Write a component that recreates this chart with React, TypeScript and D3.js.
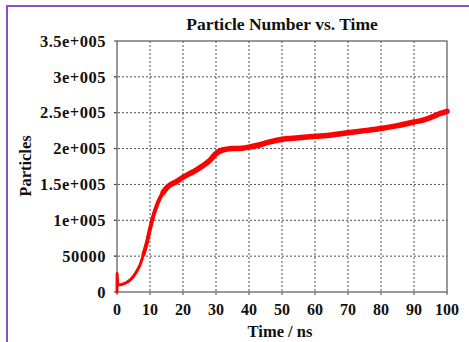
import * as d3 from 'd3';

// time (ns) and particle count
const timeNs = [0, 0.05, 0.15, 0.3, 1, 2, 3, 4, 5, 6, 7, 8, 9, 10, 11, 12, 13, 14, 15, 16, 18, 20, 22, 24, 26, 28, 30, 32, 35, 38, 40, 43, 46, 50, 55, 60, 65, 70, 75, 80, 85, 90, 93, 96, 98, 100];
const particles = [0, 26000, 14000, 10000, 10000, 11500, 13500, 17000, 22000, 29000, 38000, 52000, 68000, 88000, 106000, 120000, 131000, 139000, 145000, 149000, 154000, 160000, 165000, 170000, 176000, 183000, 193000, 198000, 200000, 200500, 202000, 205000, 209000, 213000, 215000, 217000, 219000, 222000, 225000, 228000, 232000, 237000, 240000, 245000, 249000, 252000];

const xTicks = [0, 10, 20, 30, 40, 50, 60, 70, 80, 90, 100];
const yTicks = [0, 50000, 100000, 150000, 200000, 250000, 300000, 350000];
const yTickLabels = ['0', '50000', '1e+005', '1.5e+005', '2e+005', '2.5e+005', '3e+005', '3.5e+005'];

const W = 469;
const H = 342;
const margin = { top: 41, right: 22, bottom: 50, left: 117 };
const font = '"Liberation Serif", "Times New Roman", serif';

export default function App() {
  const innerW = W - margin.left - margin.right;
  const innerH = H - margin.top - margin.bottom;

  const x = d3.scaleLinear().domain([0, 100]).range([0, innerW]);
  const y = d3.scaleLinear().domain([0, 350000]).range([innerH, 0]);

  const line = d3.line<number>()
    .x(i => x(timeNs[i]))
    .y(i => y(particles[i]))
    .curve(d3.curveMonotoneX);

  const idx = d3.range(timeNs.length);
  // the noisy trace gets wider as the count grows
  const mid = idx.filter(i => timeNs[i] >= 8);
  const late = idx.filter(i => timeNs[i] >= 14);

  return (
    <svg width={W} height={H} style={{ position: 'absolute', left: 0, top: 0, background: '#fff' }}>
      {/* purple frame, only left and top edges show */}
      <rect x={7} y={6} width={W + 10} height={H + 10} fill="none" stroke="#8a4fc6" strokeWidth={2} />

      <text x={282} y={30} textAnchor="middle" fontFamily={font} fontWeight="bold" fontSize={17.5} fill="#111">
        Particle Number vs. Time
      </text>

      <g transform={`translate(${margin.left},${margin.top})`}>
        {/* grid */}
        {xTicks.slice(1, -1).map(t => (
          <line key={`gx${t}`} x1={x(t)} x2={x(t)} y1={0} y2={innerH} stroke="#222" strokeWidth={0.8} strokeDasharray="2,2" />
        ))}
        {yTicks.slice(1, -1).map(t => (
          <line key={`gy${t}`} x1={-3} x2={innerW} y1={y(t)} y2={y(t)} stroke="#222" strokeWidth={0.8} strokeDasharray="2,2" />
        ))}

        {/* ticks */}
        {xTicks.map(t => (
          <line key={`tx${t}`} x1={x(t)} x2={x(t)} y1={innerH} y2={innerH + 3} stroke="#444" strokeWidth={1} />
        ))}
        {yTicks.map(t => (
          <line key={`ty${t}`} x1={-3} x2={0} y1={y(t)} y2={y(t)} stroke="#444" strokeWidth={1} />
        ))}

        {/* frame */}
        <rect x={0} y={0} width={innerW} height={innerH} fill="none" stroke="#555" strokeWidth={1.2} />

        {/* data */}
        <path d={line(idx) ?? ''} fill="none" stroke="#ff0000" strokeWidth={3} strokeLinejoin="round" strokeLinecap="round" />
        <path d={line(mid) ?? ''} fill="none" stroke="#ff0000" strokeWidth={4} strokeLinejoin="round" strokeLinecap="round" />
        <path d={line(late) ?? ''} fill="none" stroke="#ff0000" strokeWidth={5.5} strokeLinejoin="round" strokeLinecap="round" />

        {/* tick labels */}
        {xTicks.map(t => (
          <text key={`lx${t}`} x={x(t)} y={innerH + 23} textAnchor="middle" fontFamily={font} fontWeight="bold" fontSize={16} fill="#111">
            {t}
          </text>
        ))}
        {yTicks.map((t, i) => (
          <text key={`ly${t}`} x={-11} y={y(t)} dy="0.35em" textAnchor="end" fontFamily={font} fontWeight="bold" fontSize={16.5} letterSpacing={0.5} fill="#111">
            {yTickLabels[i]}
          </text>
        ))}

        {/* axis titles */}
        <text x={innerW / 2 - 2} y={innerH + 45} textAnchor="middle" fontFamily={font} fontWeight="bold" fontSize={16.5} fill="#111">
          Time / ns
        </text>
        <text transform={`translate(${25 - margin.left},${166 - margin.top}) rotate(-90)`} dy="0.35em" textAnchor="middle" fontFamily={font} fontWeight="bold" fontSize={16.5} fill="#111">
          Particles
        </text>
      </g>
    </svg>
  );
}
